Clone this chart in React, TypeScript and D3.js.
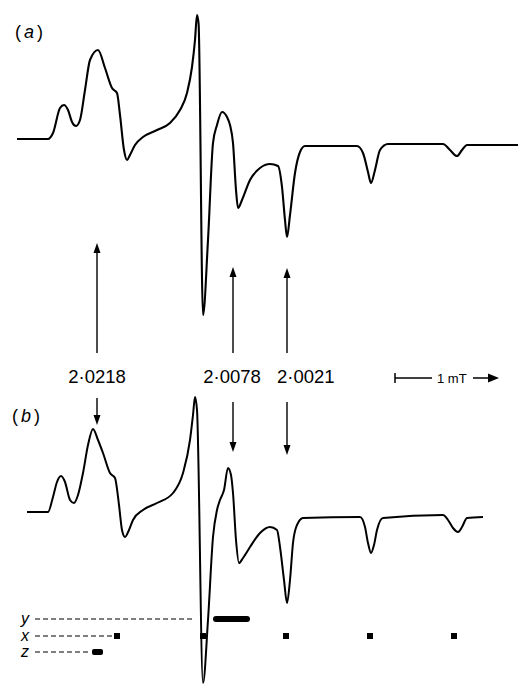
import React from "react";
import * as d3 from "d3";

// Field in gauss (relative), signal in arbitrary units
const fieldA = [0, 7.75, 9, 10.75, 11.75, 12.75, 13.75, 14.75, 15.75, 17, 18.25, 20.25, 22, 23.75, 25, 25.75, 26.75, 27.5, 28.25, 29.5, 31.5, 35, 38.25, 40.75, 42.5, 43.75, 44.5, 45, 45.4, 46.5, 47.75, 49, 50, 51.25, 52.5, 53.25, 54, 54.75, 55.25, 56.25, 58.25, 60.75, 63.25, 65.25, 66.25, 67, 67.5, 68.25, 69.5, 70.75, 72, 85, 86.5, 87.75, 88.5, 89.5, 90.75, 92.75, 106.5, 108.25, 110, 111.25, 112.5, 125.25];
const signalA = [0, 0, 0.6, 3.1, 3.4, 2.9, 1.7, 1.3, 1.9, 4.9, 7.9, 8.9, 7.1, 5.1, 4.6, 2.4, -1.1, -2.1, -1.6, -0.6, 0.2, 0.9, 1.6, 2.9, 4.6, 7.2, 9.9, 12.4, 11.5, -17.6, -10.1, -0.4, 1.4, 2.7, 2.2, 1.4, -0.4, -5.1, -6.9, -6.1, -4.1, -2.9, -2.5, -2.7, -4.8, -8.1, -9.8, -7.6, -3.4, -1.3, -0.7, -0.7, -1.4, -3.3, -4.4, -3.1, -1.1, -0.5, -0.5, -1.1, -1.7, -1.1, -0.6, -0.6];

const fieldB = [2.5, 7.75, 9, 10, 11, 12, 13.25, 14.25, 15.25, 16.5, 17.75, 19, 20.25, 21.5, 23.25, 24.5, 25.5, 26.25, 27, 28, 29, 31.5, 35, 39, 41.5, 43.25, 44, 44.5, 45, 46.5, 47.75, 49, 50, 50.75, 51.75, 52.75, 53.5, 54, 54.75, 55.5, 56.5, 58.25, 60.75, 63.25, 65, 65.75, 66.75, 67.5, 68.25, 69, 70, 71.5, 85.75, 87, 87.75, 88.5, 89.25, 90, 91.5, 106.5, 107.75, 109, 110.25, 111.25, 112.5, 116.5];
const signalB = [0, 0, 1.5, 3.0, 3.6, 3.0, 1.2, 0.9, 1.7, 3.9, 6.7, 8.3, 7.2, 5.9, 3.9, 3.4, 0.7, -1.8, -2.5, -1.8, -0.8, 0.2, 0.9, 1.9, 3.9, 7.2, 9.7, 11.5, 10.2, -17.1, -10.8, -2.5, 0.2, 1.2, 2.2, 4.4, 3.7, 1.9, -2.8, -5.1, -4.6, -3.5, -2.1, -1.5, -1.8, -3.5, -6.8, -9.1, -6.8, -3.1, -1.3, -0.6, -0.5, -1.5, -3.1, -4.1, -3.3, -1.8, -0.6, -0.3, -0.8, -1.6, -2.0, -1.5, -0.6, -0.5];

const gLabels = ["2·0218", "2·0078", "2·0021"];
const gFields = [20, 54, 67.5];

// stick diagram: y (bar), x (squares), z (bar)
const axisNames = ["y", "x", "z"];
const yStick = [49, 58.25];
const xSticks = [25, 46.5, 67.25, 88.25, 109.25];
const zStick = [18.75, 21.5];
const dashEnds = [44, 24, 18];

export default function App() {
  const x = d3.scaleLinear().domain([0, 125]).range([17, 517]);
  const yA = d3.scaleLinear().domain([-17.6, 12.4]).range([315, 15]);
  const yB = d3.scaleLinear().domain([-17.1, 11.5]).range([683, 397]);
  const la = d3.line<number>().x((_, i) => x(fieldA[i])).y((d) => yA(d)).curve(d3.curveMonotoneX);
  const lb = d3.line<number>().x((_, i) => x(fieldB[i])).y((d) => yB(d)).curve(d3.curveMonotoneX);

  const upTips = [243, 267, 268];
  const upBottom = 353;
  const downTop = [398, 402, 402];
  const downTips = [425, 452, 455];
  const labelAnchor = ["middle", "middle", "start"];
  const labelDx = [0, -1, -10];
  const rowY = [619, 636, 652];

  const head = (cx: number, tip: number, dir: number) =>
    `M${cx},${tip} L${cx - 3.5},${tip + dir * 10} L${cx + 3.5},${tip + dir * 10} Z`;

  return (
    <svg width={519} height={685} style={{ position: "absolute", left: 0, top: 0, background: "#fff" }}
      fontFamily="Liberation Sans, Arial, sans-serif">
      <rect width={519} height={685} fill="#fff" />
      <text x={15} y={38} fontSize={18}>(<tspan dx={3} fontStyle="italic">a</tspan><tspan dx={3}>)</tspan></text>
      <text x={12} y={422} fontSize={18}>(<tspan dx={3} fontStyle="italic">b</tspan><tspan dx={3}>)</tspan></text>
      <path d={la(signalA) || ""} fill="none" stroke="#000" strokeWidth={2.1} strokeLinejoin="round" />
      <path d={lb(signalB) || ""} fill="none" stroke="#000" strokeWidth={2} strokeLinejoin="round" />
      {gFields.map((g, i) => (
        <g key={i}>
          <line x1={x(g)} x2={x(g)} y1={upTips[i] + 8} y2={upBottom} stroke="#000" strokeWidth={1.4} />
          <path d={head(x(g), upTips[i], 1)} fill="#000" />
          <text x={x(g) + labelDx[i]} y={383} fontSize={18.5} textAnchor={labelAnchor[i] as any}>{gLabels[i]}</text>
          <line x1={x(g)} x2={x(g)} y1={downTop[i]} y2={downTips[i] - 8} stroke="#000" strokeWidth={1.4} />
          <path d={head(x(g), downTips[i], -1)} fill="#000" />
        </g>
      ))}
      {/* scale bar */}
      <line x1={395} x2={432} y1={378} y2={378} stroke="#000" strokeWidth={1.5} />
      <line x1={395} x2={395} y1={373} y2={383} stroke="#000" strokeWidth={1.5} />
      <text x={437} y={382.5} fontSize={13}>1 mT</text>
      <line x1={473} x2={490} y1={378} y2={378} stroke="#000" strokeWidth={1.5} />
      <path d="M499,378 L488,373.5 L488,382.5 Z" fill="#000" />
      {/* stick diagram */}
      {axisNames.map((n, i) => (
        <g key={n}>
          <text x={25} y={rowY[i] + 5} fontSize={16} fontStyle="italic" textAnchor="middle">{n}</text>
          <line x1={35} x2={x(dashEnds[i])} y1={rowY[i]} y2={rowY[i]} stroke="#000" strokeWidth={1.1} strokeDasharray="5,3" />
        </g>
      ))}
      <rect x={x(yStick[0])} y={rowY[0] - 3} width={x(yStick[1]) - x(yStick[0])} height={6} rx={3} fill="#000" />
      <rect x={x(zStick[0])} y={rowY[2] - 3} width={x(zStick[1]) - x(zStick[0])} height={6} rx={2} fill="#000" />
      {xSticks.map((f, i) => (
        <rect key={i} x={x(f) - 3} y={rowY[1] - 3} width={6} height={6} fill="#000" />
      ))}
    </svg>
  );
}
